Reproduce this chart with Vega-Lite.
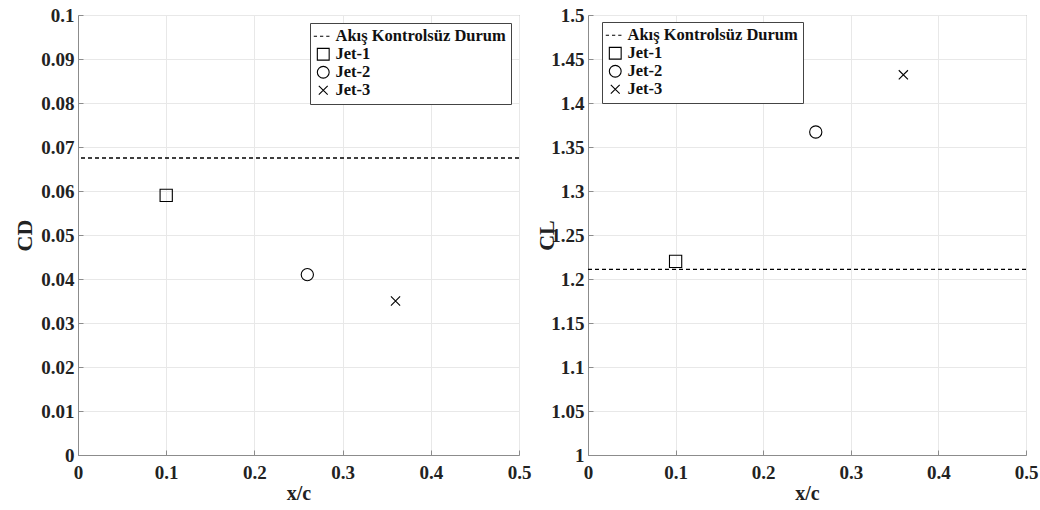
{
  "$schema": "https://vega.github.io/schema/vega-lite/v6.json",
  "padding": {"left": 13, "top": 5, "right": 0, "bottom": 5},
  "background": "white",
  "datasets": {
    "cd": [
      {"series": "Jet-1", "x": 0.1, "y": 0.059},
      {"series": "Jet-2", "x": 0.26, "y": 0.041},
      {"series": "Jet-3", "x": 0.36, "y": 0.035}
    ],
    "cdBase": [{"series": "Akış Kontrolsüz Durum", "y": 0.0675}],
    "cl": [
      {"series": "Jet-1", "x": 0.1, "y": 1.22},
      {"series": "Jet-2", "x": 0.26, "y": 1.367},
      {"series": "Jet-3", "x": 0.36, "y": 1.432}
    ],
    "clBase": [{"series": "Akış Kontrolsüz Durum", "y": 1.211}]
  },
  "spacing": 3,
  "resolve": {"scale": {"shape": "independent"}, "legend": {"shape": "independent"}},
  "hconcat": [
    {
      "width": 441,
      "height": 440,
      "layer": [
        {
          "data": {"name": "cdBase"},
          "mark": {"type": "rule", "color": "black", "strokeDash": [4, 3], "strokeWidth": 1.3},
          "encoding": {"y": {"field": "y", "type": "quantitative", "scale": {"domain": [0, 0.1]}}}
        },
        {
          "data": {"name": "cd"},
          "mark": {"type": "point", "filled": false, "color": "black", "strokeWidth": 1.1, "size": 150, "opacity": 1},
          "encoding": {
            "x": {"field": "x", "type": "quantitative", "scale": {"domain": [0, 0.5]},
              "axis": {"title": "x/c", "values": [0, 0.1, 0.2, 0.3, 0.4, 0.5], "format": "~g"}},
            "y": {"field": "y", "type": "quantitative", "scale": {"domain": [0, 0.1]},
              "axis": {"title": "CD", "titlePadding": 4, "values": [0, 0.01, 0.02, 0.03, 0.04, 0.05, 0.06, 0.07, 0.08, 0.09, 0.1], "format": "~g"}},
            "shape": {"field": "series", "type": "nominal",
              "scale": {"domain": ["Akış Kontrolsüz Durum", "Jet-1", "Jet-2", "Jet-3"],
                "range": ["M-1.6,0L-1.05,0M-0.55,0L0,0M0.5,0L1.05,0", "square", "circle", "M-0.75,-0.75L0.75,0.75M-0.75,0.75L0.75,-0.75"]},
              "legend": {"title": null, "orient": "top-right", "offset": 8}}
          }
        }
      ]
    },
    {
      "width": 438,
      "height": 440,
      "layer": [
        {
          "data": {"name": "clBase"},
          "mark": {"type": "rule", "color": "black", "strokeDash": [4, 3], "strokeWidth": 1.3},
          "encoding": {"y": {"field": "y", "type": "quantitative", "scale": {"domain": [1, 1.5]}}}
        },
        {
          "data": {"name": "cl"},
          "mark": {"type": "point", "filled": false, "color": "black", "strokeWidth": 1.1, "size": 150, "opacity": 1},
          "encoding": {
            "x": {"field": "x", "type": "quantitative", "scale": {"domain": [0, 0.5]},
              "axis": {"title": "x/c", "values": [0, 0.1, 0.2, 0.3, 0.4, 0.5], "format": "~g"}},
            "y": {"field": "y", "type": "quantitative", "scale": {"domain": [1, 1.5], "zero": false},
              "axis": {"title": "CL", "titlePadding": -8, "values": [1, 1.05, 1.1, 1.15, 1.2, 1.25, 1.3, 1.35, 1.4, 1.45, 1.5], "format": "~g"}},
            "shape": {"field": "series", "type": "nominal",
              "scale": {"domain": ["Akış Kontrolsüz Durum", "Jet-1", "Jet-2", "Jet-3"],
                "range": ["M-1.6,0L-1.05,0M-0.55,0L0,0M0.5,0L1.05,0", "square", "circle", "M-0.75,-0.75L0.75,0.75M-0.75,0.75L0.75,-0.75"]},
              "legend": {"title": null, "orient": "none", "legendX": 14, "legendY": 7}}
          }
        }
      ]
    }
  ],
  "config": {
    "font": "Liberation Serif",
    "view": {"stroke": "#8c8c8c", "strokeWidth": 1},
    "axis": {
      "labelFont": "Liberation Serif",
      "labelFontSize": 19,
      "labelFontWeight": "bold",
      "labelColor": "#222",
      "titleFont": "Liberation Serif",
      "titleFontSize": 22,
      "titleFontWeight": "bold",
      "titleColor": "#222",
      "domainColor": "#8c8c8c",
      "gridColor": "#e8e8e8",
      "ticks": true,
      "tickSize": -5,
      "tickColor": "#8c8c8c",
      "labelPadding": 9,
      "labelFlush": false
    },
    "axisX": {"titleFontSize": 20, "titlePadding": 1, "labelPadding": 13},
    "legend": {
      "labelFont": "Liberation Serif",
      "labelFontSize": 16.5,
      "labelFontWeight": "bold",
      "labelColor": "#111",
      "labelOffset": 4,
      "labelLimit": 400,
      "strokeColor": "#444",
      "fillColor": "white",
      "padding": 5,
      "rowPadding": 1,
      "symbolSize": 140,
      "symbolStrokeColor": "black",
      "symbolStrokeWidth": 1.1,
      "cornerRadius": 0
    }
  }
}
